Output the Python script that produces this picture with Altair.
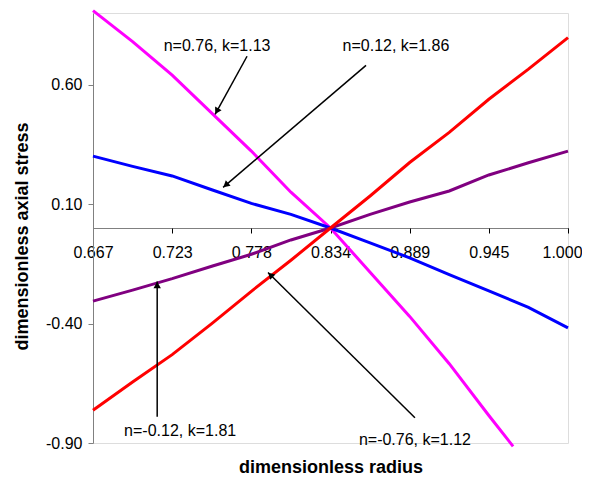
import math
import altair as alt
import pandas as pd

# ---------------- data ----------------
X_POINTS = [0.667, 0.69475, 0.7225, 0.75025, 0.778, 0.80575, 0.8335,
            0.86125, 0.889, 0.91675, 0.9445, 0.97225, 1.0]

BLUE_Y = [0.301, 0.258, 0.218, 0.160, 0.103, 0.057, 0.0,
          -0.062, -0.125, -0.195, -0.263, -0.332, -0.418]
RED_Y = [-0.763, -0.645, -0.530, -0.400, -0.265, -0.135, 0.0,
         0.134, 0.274, 0.400, 0.539, 0.665, 0.797]
PURPLE_Y = [-0.306, -0.260, -0.212, -0.160, -0.110, -0.050, 0.0,
            0.057, 0.109, 0.155, 0.222, 0.273, 0.322]
MAGENTA_X = [0.667, 0.69475, 0.7225, 0.75025, 0.778, 0.80575, 0.8335,
             0.86125, 0.889, 0.91675, 0.9445, 0.9615]
MAGENTA_Y = [0.910, 0.780, 0.640, 0.481, 0.322, 0.150, 0.0,
             -0.185, -0.370, -0.568, -0.785, -0.914]

SERIES = ["n=0.76, k=1.13", "n=0.12, k=1.86", "n=-0.12, k=1.81", "n=-0.76, k=1.12"]
COLORS = ["#FF00FF", "#0000FF", "#800080", "#FF0000"]

X_TICKS = [0.667, 0.69475, 0.7225, 0.75025, 0.778, 0.80575, 0.8335,
           0.86125, 0.889, 0.91675, 0.9445, 0.97225, 1.0]
X_TICK_LABELS = ["0.667", "", "0.723", "", "0.778", "", "0.834", "",
                 "0.889", "", "0.945", "", "1.000"]
Y_TICKS = [-0.9, -0.4, 0.1, 0.6]
Y_TICK_LABELS = ["-0.90", "-0.40", "0.10", "0.60"]

ANNOT_TEXT = ["n=0.76, k=1.13", "n=0.12, k=1.86", "n=-0.12, k=1.81", "n=-0.76, k=1.12"]
ANNOT_X = [0.7540, 0.8794, 0.7281, 0.8927]
ANNOT_Y = [0.741, 0.741, -0.872, -0.907]
ARROW_X1 = [0.7750, 0.8584, 0.7120, 0.8927]
ARROW_Y1 = [0.719, 0.681, -0.790, -0.794]
ARROW_X2 = [0.7526, 0.7582, 0.7120, 0.7897]
ARROW_Y2 = [0.476, 0.170, -0.224, -0.186]

# ---------------- layout ----------------
W, H = 475, 430
XMIN, XMAX = 0.667, 1.0
YMIN, YMAX = -0.9, 0.9
FONT = "Liberation Sans"

rows = []
for s, xs, ys in [(SERIES[0], MAGENTA_X, MAGENTA_Y), (SERIES[1], X_POINTS, BLUE_Y),
                  (SERIES[2], X_POINTS, PURPLE_Y), (SERIES[3], X_POINTS, RED_Y)]:
    for x, y in zip(xs, ys):
        rows.append({"series": s, "x": x, "y": y})
df = pd.DataFrame(rows)

sx = W / (XMAX - XMIN)
sy = H / (YMAX - YMIN)
arrows = []
for x1, y1, x2, y2 in zip(ARROW_X1, ARROW_Y1, ARROW_X2, ARROW_Y2):
    dx = (x2 - x1) * sx
    dy = -(y2 - y1) * sy
    ang = math.degrees(math.atan2(dx, -dy)) % 360
    L = math.hypot(dx, dy)
    back = 3.5
    hx = x2 - (dx / L) * back / sx
    hy = y2 + (dy / L) * back / sy
    arrows.append({"x1": x1, "y1": y1, "x2": x2, "y2": y2, "hx": hx, "hy": hy, "ang": ang})
adf = pd.DataFrame(arrows)
tdf = pd.DataFrame({"t": ANNOT_TEXT, "x": ANNOT_X, "y": ANNOT_Y})

xlab = "[" + ",".join("'%s'" % s for s in X_TICK_LABELS) + "]"
ylab = "[" + ",".join("'%s'" % s for s in Y_TICK_LABELS) + "]"

xscale = alt.Scale(domain=[XMIN, XMAX], nice=False, zero=False)
yscale = alt.Scale(domain=[YMIN, YMAX], nice=False, zero=False)

xaxis = alt.Axis(
    values=X_TICKS, labelExpr=f"{xlab}[round((datum.value - 0.667) / 0.02775)]",
    offset=-H / 2, grid=False, domainColor="#000000", domainDash=[1, 1], domainWidth=1,
    tickColor="#000000", tickSize=5, labelPadding=11, labelFontSize=16, labelFont=FONT,
    labelColor="#000000", labelFlush=False, labelOverlap=False,
    labelOffset={"condition": {"test": "datum.value >= 0.99", "value": -6}, "value": 0},
    title="dimensionless radius", titleFont=FONT, titleFontSize=18, titleFontWeight="bold",
    titleColor="#000000", titleY=244, titleBaseline="alphabetic",
)
yaxis = alt.Axis(
    values=Y_TICKS, labelExpr=f"{ylab}[round((datum.value + 0.9) / 0.5)]",
    grid=False, domainColor="#808080", domainWidth=1, tickColor="#808080", tickSize=5,
    labelPadding=6, labelFontSize=16, labelFont=FONT, labelColor="#000000",
    labelFlush=False, labelOverlap=False,
    title="dimensionless axial stress", titleFont=FONT, titleFontSize=18,
    titleFontWeight="bold", titleColor="#000000", titleAngle=270, titleX=-71,
    titleY=H / 2 + 8, titleAlign="center", titleBaseline="middle",
)

lines = alt.Chart(df).mark_line(strokeWidth=3).encode(
    x=alt.X("x:Q", scale=xscale, axis=xaxis),
    y=alt.Y("y:Q", scale=yscale, axis=yaxis),
    color=alt.Color("series:N", scale=alt.Scale(domain=SERIES, range=COLORS), legend=None),
    detail="series:N",
)

rules = alt.Chart(adf).mark_rule(color="#000000", strokeWidth=1.5).encode(
    x=alt.X("x1:Q", scale=xscale), y=alt.Y("y1:Q", scale=yscale),
    x2="x2:Q", y2="y2:Q",
)
heads = alt.Chart(adf).mark_point(shape="triangle-up", filled=True, color="#000000",
                                  size=55, opacity=1).encode(
    x=alt.X("hx:Q", scale=xscale), y=alt.Y("hy:Q", scale=yscale),
    angle=alt.Angle("ang:Q", scale=None),
)
texts = alt.Chart(tdf).mark_text(font=FONT, fontSize=16, color="#000000",
                                 align="center", baseline="alphabetic").encode(
    x=alt.X("x:Q", scale=xscale), y=alt.Y("y:Q", scale=yscale), text="t:N",
)

chart = alt.layer(lines, rules, heads, texts).properties(
    width=W, height=H,
    autosize=alt.AutoSizeParams(type="none"),
    padding={"left": 85, "top": 5, "right": 14, "bottom": 35},
).configure_view(stroke=None).configure(background="#FFFFFF")

chart.save("out.html", embed_options={"renderer": "svg", "actions": False})
